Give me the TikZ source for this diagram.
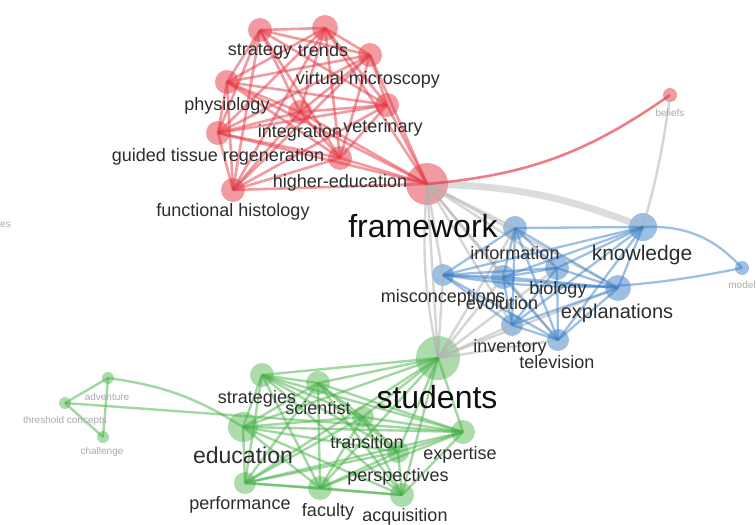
\documentclass[tikz,border=0pt]{standalone}
\usepackage{fontspec}
\setmainfont{Liberation Sans}
\definecolor{vred}{RGB}{228,56,68}
\definecolor{vblue}{RGB}{58,128,200}
\definecolor{vgreen}{RGB}{70,176,70}
\definecolor{vgray}{RGB}{178,178,178}
\definecolor{lbl}{RGB}{45,45,45}
\definecolor{lbig}{RGB}{15,15,15}
\definecolor{lsmall}{RGB}{170,170,170}
\begin{document}
\begin{tikzpicture}[x=1pt,y=-1pt,
  rn/.style={circle,inner sep=0pt,fill=vred,fill opacity=0.5,minimum size=#1},
  bn/.style={circle,inner sep=0pt,fill=vblue,fill opacity=0.5,minimum size=#1},
  gn/.style={circle,inner sep=0pt,fill=vgreen,fill opacity=0.45,minimum size=#1},
  re/.style={draw=vred,line width=2.6pt,draw opacity=0.5},
  be/.style={draw=vblue,line width=2.3pt,draw opacity=0.5},
  ge/.style={draw=vgreen,line width=2.4pt,draw opacity=0.5},
  ye/.style={draw=vgray,line width=2.4pt,draw opacity=0.55},
  lab/.style={text=lbl,inner sep=0pt,font=\fontsize{18}{20}\selectfont},
  labm/.style={text=lbl,inner sep=0pt,font=\fontsize{21}{23}\selectfont},
  labb/.style={text=lbig,inner sep=0pt,font=\fontsize{32}{34}\selectfont},
  labs/.style={text=lsmall,inner sep=0pt,font=\fontsize{10}{12}\selectfont}]
\useasboundingbox (0,0) rectangle (756,525);
% ---- nodes (circles) ----
\node[rn=24pt] (strategy) at (260,30) {};
\node[rn=26pt] (trends) at (325,28) {};
\node[rn=24pt] (virtual) at (370,55) {};
\node[rn=24pt] (physiology) at (227,82) {};
\node[rn=24pt] (veterinary) at (387,105) {};
\node[rn=24pt] (integration) at (300,112) {};
\node[rn=24pt] (gtr) at (218,133) {};
\node[rn=24pt] (higher) at (340,158) {};
\node[rn=24pt] (funchist) at (233,190) {};
\node[rn=42pt] (framework) at (427,184) {};
\node[rn=14pt] (beliefs) at (670,95) {};
\node[bn=24pt] (information) at (515,228) {};
\node[bn=28pt] (knowledge) at (643,227) {};
\node[bn=22pt] (misconceptions) at (443,275) {};
\node[bn=24pt] (evolution) at (503,277) {};
\node[bn=24pt] (biology) at (557,268) {};
\node[bn=26pt] (explanations) at (618,288) {};
\node[bn=22pt] (inventory) at (512,325) {};
\node[bn=22pt] (television) at (558,340) {};
\node[bn=14pt] (model) at (742,268) {};
\node[gn=44pt] (students) at (438,358) {};
\node[gn=24pt] (strategies) at (262,375) {};
\node[gn=24pt] (scientist) at (318,383) {};
\node[gn=12pt] (adventure) at (108,378) {};
\node[gn=12pt] (threshold) at (65,403) {};
\node[gn=12pt] (challenge) at (103,437) {};
\node[gn=30pt] (education) at (243,427) {};
\node[gn=22pt] (transition) at (363,417) {};
\node[gn=24pt] (expertise) at (463,432) {};
\node[gn=22pt] (perspectives) at (398,452) {};
\node[gn=22pt] (performance) at (245,483) {};
\node[gn=24pt] (faculty) at (320,488) {};
\node[gn=24pt] (acquisition) at (402,495) {};
% ---- gray links ----
\draw[ye,line width=7pt,draw opacity=0.45] (framework.center) to[bend left=10] (knowledge.center);
\foreach \b in {information,misconceptions,evolution,biology,explanations,inventory,television}
  \draw[ye] (framework.center) -- (\b.center);
\draw[ye] (framework.center) -- (students.center);
\draw[ye] (framework.center) to[bend right=8] (students.center);
\foreach \b in {misconceptions,evolution,inventory,television,biology,information,explanations}
  \draw[ye] (students.center) -- (\b.center);
\draw[ye] (knowledge.center) to[bend right=4] (beliefs.center);
% ---- red links ----
\foreach \a [count=\i] in {strategy,trends,virtual,physiology,veterinary,integration,gtr,higher,funchist}{
  \foreach \b [count=\j] in {strategy,trends,virtual,physiology,veterinary,integration,gtr,higher,funchist}{
    \ifnum\j>\i \draw[re] (\a.center) -- (\b.center); \fi
  }
}
\foreach \b in {higher,funchist,gtr,integration,veterinary,virtual,trends,physiology}
  \draw[re] (framework.center) -- (\b.center);
\draw[re,line width=2.6pt,draw opacity=0.65] (framework.center) to[bend right=15] (beliefs.center);
% ---- blue links ----
\foreach \a [count=\i] in {information,knowledge,misconceptions,evolution,biology,explanations,inventory,television}{
  \foreach \b [count=\j] in {information,knowledge,misconceptions,evolution,biology,explanations,inventory,television}{
    \ifnum\j>\i \draw[be] (\a.center) -- (\b.center); \fi
  }
}
\draw[be] (knowledge.center) to[bend left=25] (model.center);
\draw[be] (misconceptions.center) to[bend right=10] (model.center);
% ---- green links ----
\foreach \a [count=\i] in {students,strategies,scientist,education,transition,expertise,perspectives,performance,faculty,acquisition}{
  \foreach \b [count=\j] in {students,strategies,scientist,education,transition,expertise,perspectives,performance,faculty,acquisition}{
    \ifnum\j>\i \draw[ge] (\a.center) -- (\b.center); \fi
  }
}
\draw[ge] (threshold.center) -- (adventure.center);
\draw[ge] (threshold.center) -- (challenge.center);
\draw[ge] (adventure.center) -- (challenge.center);
\draw[ge] (threshold.center) -- (expertise.center);
\draw[ge] (adventure.center) to[bend left=12] (education.center);
% ---- labels ----
\node[lab] (l-strategy) at (260,52) {strategy};
\node[lab] (l-trends) at (323,50) {trends};
\node[lab] (l-virtual) at (368,80) {virtual microscopy};
\node[lab] (l-physiology) at (227,106) {physiology};
\node[lab] (l-veterinary) at (383,128) {veterinary};
\node[lab] (l-integration) at (300,133) {integration};
\node[lab] (l-gtr) at (218,157) {guided tissue regeneration};
\node[lab] (l-higher) at (340,183) {higher-education};
\node[lab] (l-funchist) at (233,212) {functional histology};
\node[labb] (l-framework) at (423,226) {framework};
\node[labs] (l-beliefs) at (670,113) {beliefs};
\node[lab] (l-information) at (515,253) {information};
\node[labm] (l-knowledge) at (642,255) {knowledge};
\node[lab] (l-misconceptions) at (443,298) {misconceptions};
\node[lab] (l-evolution) at (502,303) {evolution};
\node[lab] (l-biology) at (558,290) {biology};
\node[labm,font=\fontsize{20}{22}\selectfont] (l-explanations) at (617,313) {explanations};
\node[lab] (l-inventory) at (510,348) {inventory};
\node[lab] (l-television) at (557,362) {television};
\node[labs] (l-model) at (742,285) {model};
\node[labs,anchor=west] (l-es) at (0,225) {es};
\node[labb] (l-students) at (437,397) {students};
\node[lab] (l-strategies) at (257,399) {strategies};
\node[lab] (l-scientist) at (318,408) {scientist};
\node[labs] (l-adventure) at (107,397) {adventure};
\node[labs] (l-threshold) at (65,421) {threshold concepts};
\node[labs] (l-challenge) at (102,452) {challenge};
\node[labm,font=\fontsize{23}{25}\selectfont] (l-education) at (243,455) {education};
\node[lab] (l-transition) at (367,442) {transition};
\node[lab] (l-expertise) at (460,455) {expertise};
\node[lab] (l-perspectives) at (398,477) {perspectives};
\node[lab] (l-performance) at (240,505) {performance};
\node[lab] (l-faculty) at (328,512) {faculty};
\node[lab] (l-acquisition) at (405,517) {acquisition};
\end{tikzpicture}
\end{document}
